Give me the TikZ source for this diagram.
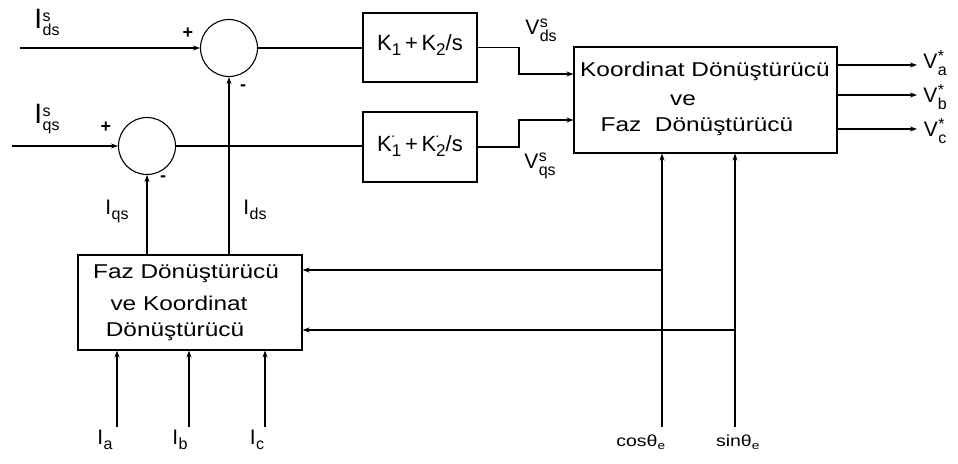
\documentclass[tikz,border=0pt]{standalone}
\usepackage{fontspec}
\setmainfont{Liberation Sans}
\usepackage{graphicx}
\usetikzlibrary{arrows.meta}
\newcommand\wx[1]{\scalebox{1.22}[1]{#1}}
\newcommand\lbl[3]{#1\kern0.5pt\raisebox{-7pt}{\fontsize{16}{16}\selectfont\begin{tabular}[b]{@{}l@{}}#3\\[-2pt]#2\end{tabular}}}
\newcommand\lsub[2]{#1\kern0.5pt\raisebox{-5pt}{\fontsize{16}{16}\selectfont #2}}
\newcommand\kk[1]{K\raisebox{-5pt}{\fontsize{17}{17}\selectfont #1}}
\newcommand\kp[1]{K\rlap{\raisebox{11pt}{\fontsize{14}{14}\selectfont\kern-1pt\textperiodcentered}}\raisebox{-5pt}{\fontsize{17}{17}\selectfont #1}}
\begin{document}
\begin{tikzpicture}[x=1pt,y=-1pt,
  line width=1.1pt,
  arr/.style={-{Stealth[length=7pt,width=5pt]}},
  blk/.style={draw,minimum width=#1,inner sep=0pt},
  sumc/.style={draw,circle,minimum size=57pt,inner sep=0pt},
  txt/.style={font=\fontsize{20}{24}\selectfont,inner sep=0pt},
  ktx/.style={font=\fontsize{22}{24}\selectfont,inner sep=0pt},
  lab/.style={font=\fontsize{21}{24}\selectfont,inner sep=0pt},
  sgn/.style={font=\fontsize{18}{20}\selectfont\bfseries,inner sep=0pt},
  sml/.style={font=\fontsize{16}{18}\selectfont,inner sep=0pt}]
\useasboundingbox (0,0) rectangle (958,463);

% summing junctions
\node[sumc] (c1) at (229,48) {};
\node[sumc] (c2) at (147,146) {};

% PI blocks
\node[blk=114pt,minimum height=69pt] (b1) at (420,47.5) {};
\node[ktx] at (420,45) {\kk{1}\,+\,\kk{2}/s};
\node[blk=114pt,minimum height=70pt] (b2) at (420,147) {};
\node[ktx] at (420,146) {\kp{1}\,+\,\kp{2}/s};

% big transform block
\node[blk=263pt,minimum height=106pt] (big) at (705.5,100) {};
\node[txt] at (705,71) {\wx{Koordinat Dönüştürücü}};
\node[txt] at (683,100) {\wx{ve}};
\node[txt] at (697,127) {\wx{Faz\ \ Dönüştürücü}};

% small transform block
\node[blk=224pt,minimum height=95pt] (sm) at (190,302.5) {};
\node[txt] at (186,274) {\wx{Faz Dönüştürücü}};
\node[txt] at (179,303) {\wx{ve Koordinat}};
\node[txt] at (175,332) {\wx{Dönüştürücü}};

% coordinates
\coordinate (idsin) at (20,48);
\coordinate (iqsin) at (12,146);
\coordinate (j1) at (519,74);
\coordinate (j2) at (519,120);
\coordinate (va) at (917,65);
\coordinate (vb) at (917,95);
\coordinate (vc) at (917,129);
\coordinate (cosin) at (662,427);
\coordinate (sinin) at (735,427);
\coordinate (t1) at (662,270);
\coordinate (t2) at (735,330);
\coordinate (ia) at (117,427);
\coordinate (ib) at (189,427);
\coordinate (ic) at (265,427);

% connectors
\draw[arr] (idsin) -- (c1.west);
\draw[arr] (iqsin) -- (c2.west);
\draw (c1.east) -- (c1.east -| b1.west);
\draw (c2.east) -- (c2.east -| b2.west);
\draw[arr] (b1.east) -| (j1) -- (j1 -| big.west);
\draw[arr] (b2.east) -| (j2) -- (j2 -| big.west);
\draw[arr] (va -| big.east) -- (va);
\draw[arr] (vb -| big.east) -- (vb);
\draw[arr] (vc -| big.east) -- (vc);
\draw[arr] (cosin) -- (cosin |- big.south);
\draw[arr] (sinin) -- (sinin |- big.south);
\draw[arr] (t1) -- (t1 -| sm.east);
\draw[arr] (t2) -- (t2 -| sm.east);
\draw[arr] (c2.south |- sm.north) -- (c2.south);
\draw[arr] (c1.south |- sm.north) -- (c1.south);
\draw[arr] (ia) -- (ia |- sm.south);
\draw[arr] (ib) -- (ib |- sm.south);
\draw[arr] (ic) -- (ic |- sm.south);

% signs
\node[sgn] at (188,33) {+};
\node[sgn] at (106,127) {+};
\node[sgn] at (243,88) {-};
\node[sgn] at (163,179) {-};

% labels
\node[lab,font=\fontsize{28}{30}\selectfont] at (47,25) {\lbl{I}{ds}{s}};
\node[lab,font=\fontsize{28}{30}\selectfont] at (47,120) {\lbl{I}{qs}{s}};
\node[lab] at (117,211) {\lsub{I}{qs}};
\node[lab] at (255,210) {\lsub{I}{ds}};
\node[lab] at (541,31) {\lbl{V}{ds}{s}};
\node[lab] at (540,165) {\lbl{V}{qs}{s}};
\node[lab] at (935,65) {\lbl{V}{a}{*}};
\node[lab] at (935,99) {\lbl{V}{b}{*}};
\node[lab] at (935,133) {\lbl{V}{c}{*}};
\node[lab] at (105,440) {\lsub{I}{a}};
\node[lab] at (180,440) {\lsub{I}{b}};
\node[lab] at (257,440) {\lsub{I}{c}};
\node[sml] at (641,442) {\wx{cosθ\textsubscript{e}}};
\node[sml] at (738,442) {\wx{sinθ\textsubscript{e}}};
\end{tikzpicture}
\end{document}
